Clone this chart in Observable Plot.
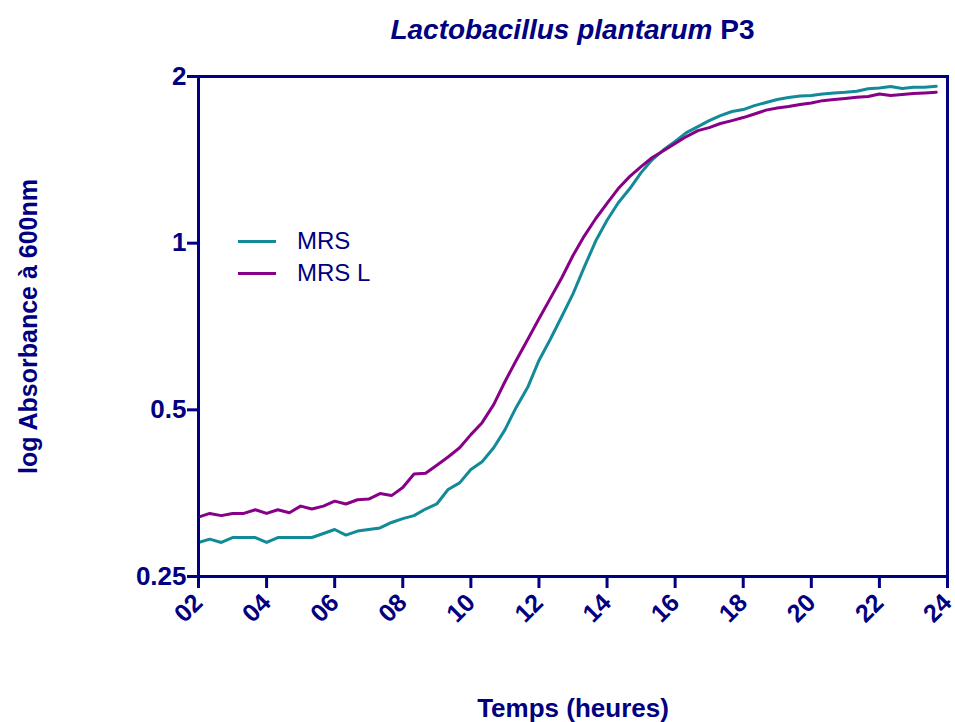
<!DOCTYPE html>
<html>
<head>
<meta charset="utf-8">
<script src="https://cdn.jsdelivr.net/npm/d3@7"></script>
<script src="https://cdn.jsdelivr.net/npm/@observablehq/plot@0.6"></script>
<style>
  body { margin: 0; background: #ffffff; }
  #wrap { position: relative; width: 955px; height: 722px; font-family: "Liberation Sans", Arial, sans-serif; color: #000080; }
  #title { position: absolute; left: 198px; width: 749px; top: 0; height: 60px; line-height: 60px; text-align: center; font-size: 28px; font-weight: bold; }
  #chart { position: absolute; left: 0; top: 60px; }
  .lg-line { position: absolute; width: 38px; height: 3px; }
  .lg-text { position: absolute; height: 30px; line-height: 30px; font-size: 24px; }
</style>
</head>
<body>
<div id="wrap">
  <div id="title"><i>Lactobacillus plantarum</i> P3</div>
  <div id="chart"></div>
  <div id="legend"></div>
</div>
<script>
// Time (hours)
const times = [2,2.33,2.67,3,3.33,3.67,4,4.33,4.67,5,5.33,5.67,6,6.33,6.67,7,7.33,7.67,8,8.33,8.67,9,9.33,9.67,10,10.33,10.67,11,11.33,11.67,12,12.33,12.67,13,13.33,13.67,14,14.33,14.67,15,15.33,15.67,16,16.33,16.67,17,17.33,17.67,18,18.33,18.67,19,19.33,19.67,20,20.33,20.67,21,21.33,21.67,22,22.33,22.67,23,23.33,23.67];

// Absorbance at 600 nm, MRS
const mrs = [0.288,0.292,0.288,0.294,0.294,0.294,0.288,0.294,0.294,0.294,0.294,0.299,0.304,0.297,0.302,0.304,0.306,0.313,0.318,0.322,0.331,0.338,0.359,0.369,0.390,0.403,0.427,0.460,0.505,0.549,0.614,0.670,0.737,0.810,0.905,1.010,1.100,1.183,1.255,1.341,1.416,1.476,1.526,1.584,1.624,1.665,1.700,1.729,1.743,1.772,1.795,1.817,1.832,1.844,1.848,1.859,1.868,1.873,1.881,1.900,1.907,1.918,1.902,1.913,1.913,1.920];

// Absorbance at 600 nm, MRS L
const mrsL = [0.320,0.325,0.322,0.325,0.325,0.330,0.325,0.330,0.326,0.335,0.331,0.335,0.342,0.338,0.344,0.345,0.353,0.350,0.362,0.383,0.384,0.397,0.411,0.427,0.451,0.474,0.511,0.562,0.614,0.670,0.730,0.794,0.866,0.950,1.030,1.108,1.180,1.255,1.320,1.375,1.428,1.470,1.513,1.558,1.597,1.617,1.645,1.665,1.686,1.711,1.739,1.755,1.765,1.780,1.791,1.809,1.817,1.825,1.834,1.840,1.859,1.848,1.855,1.863,1.868,1.873];

const seriesNames = ["MRS", "MRS L"];
const seriesColors = ["#128a98", "#880088"];
const xTicks = [2,4,6,8,10,12,14,16,18,20,22,24];
const yTicks = [0.25, 0.5, 1, 2];
const xLabel = "Temps (heures)";
const yLabel = "log Absorbance à 600nm";

const navy = "#000080";

const data = [
  ...times.map((t, i) => ({t, v: mrs[i], s: seriesNames[0]})),
  ...times.map((t, i) => ({t, v: mrsL[i], s: seriesNames[1]}))
];

const chart = Plot.plot({
  width: 955,
  height: 662,
  marginLeft: 198,
  marginRight: 8,
  marginTop: 16,
  marginBottom: 146,
  style: {fontFamily: "Liberation Sans, Arial, sans-serif", fontSize: "24px", fontWeight: "bold", color: navy, background: "white", overflow: "visible"},
  x: {domain: [2, 24]},
  y: {type: "log", domain: [0.25, 2]},
  color: {domain: seriesNames, range: seriesColors},
  marks: [
    Plot.axisX({ticks: xTicks, tickFormat: d => String(d).padStart(2, "0"), tickSize: 12, tickPadding: 10, tickRotate: -45, strokeWidth: 3, fontSize: 25, label: null}),
    Plot.axisY({ticks: yTicks, tickFormat: d => String(d), tickSize: 11, tickPadding: 1, strokeWidth: 3, fontSize: 26, label: null}),
    Plot.line(data, {x: "t", y: "v", z: "s", stroke: "s", strokeWidth: 3, strokeLinejoin: "round"}),
    Plot.frame({stroke: navy, strokeWidth: 3}),
    Plot.text([xLabel], {frameAnchor: "bottom", dy: 140, fontSize: 26, fontWeight: "bold", fill: navy}),
    Plot.text([yLabel], {frameAnchor: "left", dx: -170, rotate: -90, textAnchor: "middle", fontSize: 25, fontWeight: "bold", fill: navy})
  ]
});
document.getElementById("chart").appendChild(chart);

// legend
const legend = document.getElementById("legend");
const legendY = [241, 273];
seriesNames.forEach((name, i) => {
  const ln = document.createElement("div");
  ln.className = "lg-line";
  ln.style.left = "238px";
  ln.style.top = (legendY[i] - 1.5) + "px";
  ln.style.background = seriesColors[i];
  legend.appendChild(ln);
  const tx = document.createElement("div");
  tx.className = "lg-text";
  tx.style.left = "297px";
  tx.style.top = (legendY[i] - 15) + "px";
  tx.textContent = name;
  legend.appendChild(tx);
});
</script>
</body>
</html>
